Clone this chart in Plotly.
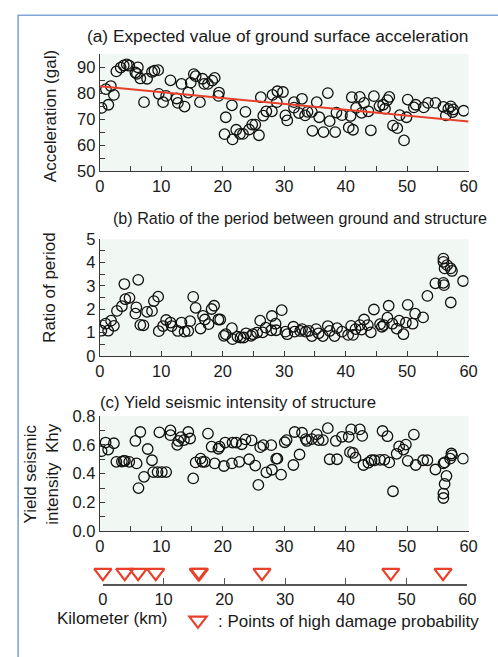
import plotly.graph_objects as go

# ---------------- data ----------------
a_km = [0.3, 1.0, 1.4, 1.8, 2.3, 2.7, 3.4, 3.9, 4.4, 4.8, 5.8, 6.05, 6.2, 6.6, 7.2, 7.7, 8.5, 8.9, 9.5, 9.6,
        10.3, 10.8, 11.5, 12.5, 12.7, 13.3, 13.8, 14.4, 14.8, 15.3, 15.6, 16.3, 16.7, 17.0, 17.6, 18.3, 18.7,
        19.3, 19.4, 20.3, 20.5, 21.5, 21.6, 22.2, 22.8, 23.3, 23.7, 24.3, 24.8, 25.3, 25.9, 26.2, 26.6, 27.1,
        28.0, 28.1, 28.8, 28.9, 29.8, 30.2, 30.5, 31.6, 31.6, 32.4, 32.9, 33.4, 33.8, 34.5, 34.6, 35.3, 35.7,
        36.4, 37.1, 37.4, 38.3, 38.5, 39.4, 40.5, 40.8, 41.0, 41.2, 41.7, 42.3, 42.6, 43.0, 43.7, 44.1, 44.6,
        45.5, 46.1, 46.4, 46.8, 47.1, 47.7, 48.4, 48.8, 49.5, 49.9, 50.1, 51.1, 51.4, 52.7, 53.4, 54.6, 55.9,
        56.3, 56.7, 57.1, 57.4, 57.5, 59.2]
a_gal = [74.4, 81.6, 75.6, 82.8, 79.4, 88.4, 89.9, 90.7, 91.1, 90.6, 88.0, 87.5, 90.0, 85.7, 76.6, 85.6, 88.2,
         88.7, 88.9, 79.8, 76.6, 79.0, 85.0, 78.0, 76.3, 83.6, 74.9, 80.3, 84.1, 87.4, 86.6, 76.6, 85.6, 83.6,
         83.6, 84.9, 85.9, 79.0, 80.3, 64.3, 70.8, 75.4, 62.3, 66.0, 64.4, 64.4, 72.9, 66.1, 68.0, 68.0, 63.9,
         78.5, 71.4, 73.1, 73.1, 79.4, 76.6, 80.8, 80.5, 71.5, 69.6, 74.5, 76.6, 72.4, 77.9, 71.5, 72.9, 72.9,
         65.6, 76.6, 70.8, 65.1, 80.1, 69.3, 65.1, 72.6, 71.6, 66.9, 71.3, 78.5, 66.0, 74.4, 78.6, 72.5, 76.3,
         73.1, 65.8, 78.9, 75.1, 75.6, 74.1, 77.4, 78.6, 67.6, 66.6, 71.6, 61.9, 70.8, 77.6, 74.6, 75.6, 74.6,
         76.3, 76.3, 74.8, 71.5, 74.0, 75.0, 72.8, 73.8, 73.3]
trend_km = [0, 60]
trend_gal = [82.7, 69.2]

b_km = [0.26, 0.95, 1.37, 1.84, 2.3, 2.8, 3.6, 4.0, 4.16, 4.84, 5.8, 5.95, 6.26, 6.6, 7.1, 7.7, 8.5, 8.8,
        9.5, 9.6, 10.3, 10.8, 11.5, 11.7, 12.7, 13.3, 13.8, 14.4, 14.7, 15.2, 15.6, 16.4, 16.8, 17.1, 17.7,
        18.2, 18.6, 19.3, 19.6, 20.2, 20.5, 21.5, 21.6, 22.4, 22.9, 23.4, 23.8, 24.6, 24.9, 25.6, 26.1, 26.5,
        27.0, 27.9, 28.0, 28.6, 28.7, 29.6, 30.2, 30.5, 31.5, 31.7, 32.6, 32.9, 33.5, 34.0, 34.5, 35.2, 35.6,
        36.3, 37.1, 37.4, 38.2, 38.6, 39.4, 40.4, 40.9, 41.2, 41.6, 42.3, 42.6, 43.0, 43.6, 44.1, 44.6, 45.6,
        45.9, 46.2, 46.8, 47.0, 47.6, 48.3, 48.7, 49.4, 49.8, 50.1, 50.9, 51.3, 52.6, 53.3, 54.6, 55.9, 55.9,
        56.1, 56.0, 55.9, 56.5, 57.1, 57.3, 57.1, 59.1]
b_ratio = [1.08, 1.38, 1.08, 1.51, 1.29, 1.93, 2.13, 3.08, 2.43, 2.49, 1.81, 2.08, 3.26, 1.33, 1.31, 1.89,
           1.93, 2.35, 2.54, 1.06, 1.28, 1.54, 1.43, 1.28, 1.07, 1.43, 1.04, 1.07, 1.49, 2.53, 2.06, 1.17,
           1.72, 1.56, 1.36, 2.01, 2.15, 1.56, 1.56, 0.86, 0.93, 1.19, 0.72, 0.83, 0.79, 0.79, 0.97, 0.86,
           0.93, 1.00, 1.51, 1.01, 1.21, 1.10, 1.71, 1.38, 1.10, 1.96, 1.04, 0.93, 1.25, 1.04, 1.07, 1.15,
           1.04, 1.07, 0.85, 1.15, 0.97, 0.85, 1.28, 1.07, 0.85, 1.19, 1.04, 0.90, 1.29, 0.90, 1.15, 1.32,
           1.13, 1.56, 1.32, 1.01, 1.99, 1.36, 1.25, 1.32, 1.64, 2.15, 1.38, 1.17, 1.51, 0.93, 1.43, 2.19,
           1.38, 1.81, 1.65, 2.57, 3.11, 4.17, 4.03, 3.75, 3.03, 3.13, 3.89, 3.75, 3.64, 2.29, 3.21]

c_km = [0.3, 0.95, 1.37, 2.3, 2.7, 3.6, 3.9, 4.1, 4.8, 5.8, 6.0, 6.3, 6.6, 7.2, 7.8, 8.5, 8.7, 9.4, 9.7,
        10.1, 10.8, 11.5, 11.5, 12.6, 12.8, 13.2, 13.7, 14.4, 14.7, 15.2, 15.6, 16.4, 16.7, 17.1, 17.6, 18.2,
        18.7, 19.3, 19.5, 20.2, 20.4, 21.5, 21.6, 22.2, 22.7, 23.1, 23.7, 24.3, 24.7, 25.3, 25.8, 26.1, 26.6,
        27.1, 27.9, 28.0, 28.7, 28.9, 29.5, 30.1, 30.4, 31.5, 31.7, 32.5, 32.9, 33.5, 33.7, 34.5, 35.3, 35.6,
        36.3, 37.1, 37.4, 38.4, 38.6, 39.4, 40.5, 40.7, 40.9, 41.2, 41.6, 42.3, 42.7, 42.9, 43.7, 44.2, 44.7,
        45.6, 46.0, 46.3, 46.8, 47.1, 47.7, 48.3, 48.7, 49.4, 49.8, 50.1, 51.1, 51.4, 52.6, 53.3, 54.6, 55.9,
        56.1, 56.4, 56.1, 55.9, 55.9, 57.0, 57.2, 57.3, 59.1]
c_khy = [0.556, 0.616, 0.567, 0.611, 0.482, 0.484, 0.489, 0.489, 0.482, 0.627, 0.471, 0.300, 0.689, 0.378,
         0.571, 0.493, 0.411, 0.411, 0.687, 0.411, 0.411, 0.700, 0.667, 0.600, 0.627, 0.653, 0.633, 0.689,
         0.644, 0.367, 0.478, 0.504, 0.482, 0.482, 0.678, 0.587, 0.471, 0.573, 0.587, 0.453, 0.616, 0.471,
         0.616, 0.616, 0.482, 0.604, 0.638, 0.500, 0.631, 0.456, 0.322, 0.584, 0.598, 0.409, 0.598, 0.427,
         0.504, 0.504, 0.393, 0.618, 0.633, 0.460, 0.689, 0.533, 0.684, 0.640, 0.627, 0.640, 0.673, 0.633,
         0.633, 0.716, 0.500, 0.627, 0.500, 0.656, 0.656, 0.549, 0.707, 0.544, 0.511, 0.707, 0.662, 0.460,
         0.476, 0.493, 0.493, 0.496, 0.696, 0.496, 0.660, 0.478, 0.278, 0.538, 0.589, 0.567, 0.602, 0.489,
         0.671, 0.460, 0.493, 0.493, 0.429, 0.471, 0.478, 0.384, 0.329, 0.262, 0.231, 0.504, 0.540, 0.527,
         0.504]

damage_km = [0.0, 3.6, 5.8, 8.7, 15.7, 15.9, 26.2, 47.4, 56.0]
damage_y = [0.5] * len(damage_km)

x_ticks = [0, 10, 20, 30, 40, 50, 60]

# ---------------- style ----------------
W, H = 498, 657
FONT = "Liberation Sans, Arial, sans-serif"
TXT = "#1a1a1a"
AX = "#3a3a3a"
BG = "#f1f7f2"
RED = "#e8402a"
FS = 17
TFS = 16.5


def px(x):
    return x / W


def py(y):
    return 1 - y / H


fig = go.Figure()

circ = dict(symbol="circle-open", size=10.5, color="#111111", line=dict(width=1.3, color="#111111"))
fig.add_trace(go.Scatter(x=a_km, y=a_gal, mode="markers", marker=circ, xaxis="x", yaxis="y", showlegend=False))
fig.add_trace(go.Scatter(x=trend_km, y=trend_gal, mode="lines", line=dict(color=RED, width=2),
                         xaxis="x", yaxis="y", showlegend=False))
fig.add_trace(go.Scatter(x=b_km, y=b_ratio, mode="markers", marker=circ, xaxis="x2", yaxis="y2", showlegend=False))
fig.add_trace(go.Scatter(x=c_km, y=c_khy, mode="markers", marker=circ, xaxis="x3", yaxis="y3", showlegend=False))
fig.add_trace(go.Scatter(x=damage_km, y=damage_y, mode="markers", xaxis="x4", yaxis="y4", cliponaxis=False,
                         name=": Points of high damage probability",
                         marker=dict(symbol="triangle-down-open", size=15, color=RED,
                                     line=dict(width=2.2, color=RED)),
                         showlegend=True))

xdom = [px(97.5), px(477)]


def xax(dom_anchor, minor=True):
    d = dict(domain=xdom, range=[0, 60], tickvals=x_ticks, showline=True, linecolor=AX, linewidth=1.2,
             ticks="inside", ticklen=5, tickwidth=1.2, tickcolor=AX, showgrid=False, zeroline=False,
             tickfont=dict(family=FONT, size=TFS, color=TXT), anchor=dom_anchor, fixedrange=True)
    if minor:
        d["minor"] = dict(dtick=5, ticks="inside", ticklen=5, tickwidth=1.2, tickcolor=AX, showgrid=False)
    return d


def yax(dom, rng, dtick, mdtick, fmt=None):
    d = dict(domain=dom, range=rng, dtick=dtick, tick0=0, showline=True, linecolor=AX, linewidth=1.2,
             ticks="inside", ticklen=5, tickwidth=1.2, tickcolor=AX, showgrid=False, zeroline=False,
             tickfont=dict(family=FONT, size=TFS, color=TXT), fixedrange=True,
             minor=dict(dtick=mdtick, ticks="inside", ticklen=5, tickwidth=1.2, tickcolor=AX, showgrid=False))
    if fmt:
        d["tickformat"] = fmt
    return d


fig.update_layout(
    width=W, height=H, margin=dict(l=0, r=0, t=0, b=0),
    paper_bgcolor="white", plot_bgcolor="white",
    font=dict(family=FONT, size=FS, color=TXT),
    xaxis=xax("y"),
    yaxis=yax([py(167), py(46)], [50, 95.2], 10, 5),
    xaxis2=xax("y2"),
    yaxis2=yax([py(356.7), py(236.7)], [0, 5], 1, 0.5),
    xaxis3=xax("y3"),
    yaxis3=yax([py(537), py(418.5)], [0, 0.8], 0.2, 0.1, ".1f"),
    xaxis4=dict(domain=[px(100.7), px(475.7)], range=[0, 60], tickvals=x_ticks, showline=True, linecolor="#555555",
                linewidth=1.5, ticks="inside", ticklen=6, tickwidth=1.2, tickcolor="#555555", showgrid=False,
                zeroline=False, tickfont=dict(family=FONT, size=TFS, color=TXT), anchor="y4", fixedrange=True),
    yaxis4=dict(domain=[py(591), py(568)], range=[0, 1], visible=False, fixedrange=True),
    showlegend=True,
    legend=dict(x=px(178), y=py(629), xanchor="left", yanchor="middle", bgcolor="rgba(0,0,0,0)",
                font=dict(family=FONT, size=FS, color=TXT), itemwidth=30, tracegroupgap=0),
)

# plot backgrounds
for yr, xr in (("y", "x"), ("y2", "x2"), ("y3", "x3")):
    fig.add_shape(type="rect", xref=xr + " domain", yref=yr + " domain", x0=0, x1=1, y0=0, y1=1,
                  fillcolor=BG, line=dict(width=0), layer="below")

# outer frame
fig.add_shape(type="rect", xref="paper", yref="paper", x0=px(13.5), x1=1.05, y0=-0.05, y1=py(6.5),
              line=dict(color="#7ea6d8", width=1.6), fillcolor="rgba(0,0,0,0)")

ann = [
    dict(text="(a) Expected value of ground surface acceleration", x=px(478), y=py(28), xanchor="right", size=17.3),
    dict(text="(b) Ratio of the period between ground and structure", x=px(498), y=py(215), xanchor="right", size=16.1),
    dict(text="(c) Yield seismic intensity of structure", x=px(96), y=py(405), xanchor="left", size=16.8),
    dict(text="Acceleration (gal)", x=px(47.5), y=py(110), xanchor="center", textangle=-90, size=17),
    dict(text="Ratio of period", x=px(45), y=py(286), xanchor="center", textangle=-90, size=17),
    dict(text="Yield seismic<br>intensity  Khy", x=px(38), y=py(478), xanchor="center", textangle=-90, size=17),
    dict(text="Kilometer (km)", x=px(111), y=py(627), xanchor="center", size=17),
]
for a in ann:
    s = a.pop("size")
    fig.add_annotation(xref="paper", yref="paper", yanchor="middle", showarrow=False,
                       font=dict(family=FONT, size=s, color=TXT), **a)

fig.write_html("out.html")
